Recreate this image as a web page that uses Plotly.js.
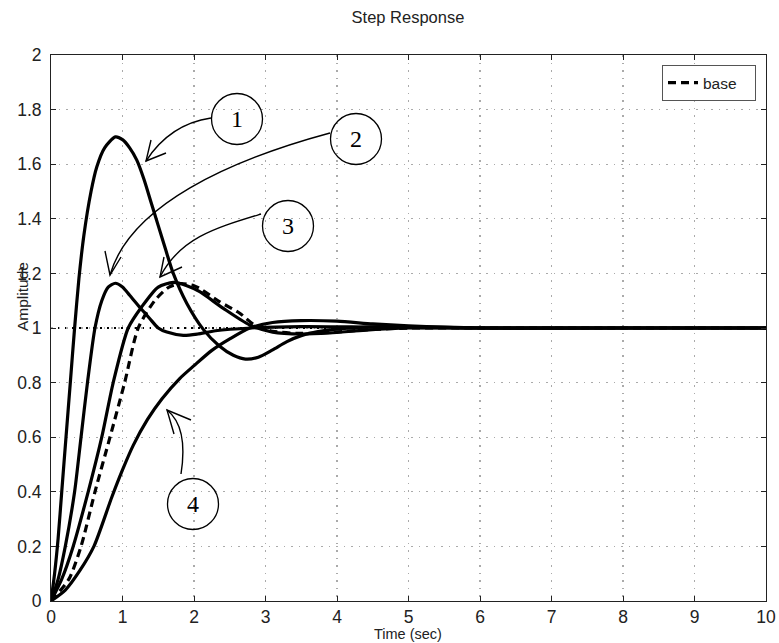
<!DOCTYPE html>
<html>
<head>
<meta charset="utf-8">
<script src="https://cdn.plot.ly/plotly-3.0.1.min.js"></script>
<style>html,body{margin:0;padding:0;background:#fff;}#chart{width:779px;height:643px;}</style>
</head>
<body>
<div id="chart"></div>
<script>
// ---- data ----
const t1 = [0,0.05,0.1,0.15,0.21,0.27,0.33,0.39,0.46,0.56,0.64,0.75,0.9,1.0,1.1,1.2,1.3,1.4,1.5,1.6,1.71,1.9,2.13,2.35,2.55,2.72,2.9,3.1,3.3,3.5,3.8,4.2,4.6,5.0,5.5,6,7,8,9,10];
const y1 = [0,0.1,0.23,0.4,0.6,0.8,1.0,1.18,1.34,1.5,1.59,1.66,1.70,1.69,1.66,1.615,1.545,1.46,1.375,1.29,1.2,1.09,0.995,0.935,0.9,0.886,0.893,0.92,0.95,0.972,0.99,1.0,1.005,1.005,1.002,1.0,1,1,1,1];

const t2 = [0,0.1,0.2,0.33,0.42,0.51,0.615,0.71,0.8,0.9,1.0,1.1,1.245,1.38,1.5,1.62,1.85,2.05,2.3,2.8,3.5,4.5,6,8,10];
const y2 = [0,0.08,0.2,0.4,0.6,0.8,1.0,1.1,1.15,1.164,1.15,1.12,1.075,1.035,1.0,0.985,0.973,0.978,0.99,1.0,1.005,1.003,1,1,1];

const t3 = [0,0.15,0.31,0.52,0.71,0.87,1.08,1.27,1.5,1.71,1.9,2.08,2.41,2.78,3.1,3.5,3.9,4.4,5,6,8,10];
const y3 = [0,0.08,0.2,0.4,0.6,0.8,1.0,1.078,1.15,1.167,1.155,1.133,1.072,1.011,0.985,0.978,0.982,0.992,1.0,1.0,1,1];

const t4 = [0,0.2,0.4,0.6,0.85,1.0,1.15,1.35,1.55,1.8,2.0,2.25,2.5,2.78,3.1,3.5,4.0,4.5,5,5.5,6,8,10];
const y4 = [0,0.04,0.11,0.2,0.38,0.48,0.57,0.665,0.74,0.815,0.862,0.918,0.96,1.0,1.02,1.027,1.025,1.015,1.008,1.003,1.0,1,1];

const tBase = [0,0.25,0.42,0.615,0.825,1.03,1.22,1.45,1.65,1.82,2.0,2.08,2.36,2.64,2.85,3.1,3.5,3.9,4.4,5,6,8,10];
const yBase = [0,0.08,0.2,0.4,0.6,0.8,1.0,1.1,1.15,1.163,1.155,1.145,1.096,1.054,1.01,0.988,0.98,0.984,0.993,1.0,1,1,1];

const xTicks = [0,1,2,3,4,5,6,7,8,9,10];
const xTickText = ['0','1','2','3','4','5','6','7','8','9','10'];
const yTicks = [0,0.2,0.4,0.6,0.8,1,1.2,1.4,1.6,1.8,2];
const yTickText = ['0','0.2','0.4','0.6','0.8','1','1.2','1.4','1.6','1.8','2'];
const labels = ['1','2','3','4'];
const legendName = 'base';

// ---- geometry ----
const W = 779, H = 643;
const M = {l:51, r:13, t:55, b:42};
const PW = W - M.l - M.r, PH = H - M.t - M.b;
const X0 = 0, X1 = 10, Y0 = 0, Y1 = 2;
function dx(X){ return X0 + (X - M.l) / PW * (X1 - X0); }
function dy(Y){ return Y0 + (M.t + PH - Y) / PH * (Y1 - Y0); }
function p(X,Y){ return dx(X).toFixed(4) + ',' + dy(Y).toFixed(4); }

const solid = {color:'#000', width:3.2, shape:'spline', smoothing:0.7};
const traces = [
  {x:t1, y:y1, mode:'lines', line:solid, showlegend:false, hoverinfo:'skip'},
  {x:t2, y:y2, mode:'lines', line:solid, showlegend:false, hoverinfo:'skip'},
  {x:t3, y:y3, mode:'lines', line:solid, showlegend:false, hoverinfo:'skip'},
  {x:t4, y:y4, mode:'lines', line:solid, showlegend:false, hoverinfo:'skip'},
  {x:tBase, y:yBase, mode:'lines', name:legendName + '&nbsp;&nbsp;&nbsp;',
   line:{color:'#000', width:3.2, dash:'8px,5px', shape:'spline', smoothing:0.7}}
];

// circles (pixel centres)
const circ = [[237,119],[356,139],[288,226],[193,504]];
const R = 25.5;
const shapes = [
  {type:'line', xref:'x', yref:'y', x0:0, x1:10, y0:1, y1:1,
   line:{color:'#000', width:2, dash:'2px,5px'}, layer:'below'}
];
circ.forEach(c => {
  shapes.push({type:'circle', xref:'x', yref:'y',
    x0:dx(c[0]-R), x1:dx(c[0]+R), y0:dy(c[1]+R), y1:dy(c[1]-R),
    line:{color:'#000', width:1.3}, fillcolor:'rgba(0,0,0,0)'});
});
const arrowLine = {color:'#000', width:1.4};
const paths = [
  // arrow 1
  'M' + p(211,118) + ' Q' + p(170,124) + ' ' + p(146,161),
  'M' + p(151,140) + ' L' + p(146,161) + ' L' + p(166,153),
  // arrow 2
  'M' + p(330,133) + ' C' + p(230,160) + ' ' + p(130,205) + ' ' + p(110,275),
  'M' + p(105,251) + ' L' + p(110,275) + ' L' + p(121,257),
  // arrow 3
  'M' + p(261,214) + ' C' + p(215,228) + ' ' + p(180,238) + ' ' + p(160,277),
  'M' + p(164,257) + ' L' + p(160,277) + ' L' + p(182,267),
  // arrow 4
  'M' + p(181,474) + ' C' + p(184,455) + ' ' + p(186,425) + ' ' + p(167,410),
  'M' + p(174,434) + ' L' + p(167,410) + ' L' + p(191,420)
];
paths.forEach(d => shapes.push({type:'path', xref:'x', yref:'y', path:d, line:arrowLine}));

const annotations = circ.map((c,i) => ({
  xref:'x', yref:'y', x:dx(c[0]), y:dy(c[1]), text:labels[i], showarrow:false,
  font:{family:'Liberation Serif, Times New Roman, serif', size:24, color:'#000'},
  xanchor:'center', yanchor:'middle'
}));
annotations.push({xref:'paper', yref:'paper', x:0, y:(M.t+PH-297)/PH, xshift:-29,
  text:'Amplitude', textangle:-90, showarrow:false,
  font:{family:'Liberation Sans, Arial, sans-serif', size:15.5, color:'#222'}, xanchor:'center', yanchor:'middle'});
annotations.push({xref:'paper', yref:'paper', x:(408-M.l)/PW, y:0, yshift:-33,
  text:'Time (sec)', showarrow:false,
  font:{family:'Liberation Sans, Arial, sans-serif', size:14.5, color:'#222'}, xanchor:'center', yanchor:'middle'});

const axisCommon = {showline:true, linecolor:'#222', linewidth:1, mirror:'ticks',
  ticks:'inside', ticklen:5, tickcolor:'#222', zeroline:false,
  showgrid:true, gridcolor:'#aaa', griddash:'1.5px,6px', gridwidth:1.2,
  tickfont:{family:'Liberation Sans, Arial, sans-serif', size:17.5, color:'#222'}};

const layout = {
  width:W, height:H, margin:M, paper_bgcolor:'#fff', plot_bgcolor:'#fff',
  title:{text:'Step Response', x:(408)/W, xanchor:'center', y:1-17/H, yanchor:'middle',
    font:{family:'Liberation Sans, Arial, sans-serif', size:16.5, color:'#222'}},
  xaxis:Object.assign({}, axisCommon, {range:[X0,X1], tickvals:xTicks, ticktext:xTickText, ticklabelstandoff:0}),
  yaxis:Object.assign({}, axisCommon, {range:[Y0,Y1], tickvals:yTicks, ticktext:yTickText, ticklabelstandoff:5}),
  showlegend:true,
  legend:{x:(756-M.l)/PW, xanchor:'right', y:(M.t+PH-65)/PH, yanchor:'top',
    bordercolor:'#555', borderwidth:1, bgcolor:'#fff', tracegroupgap:0,
    font:{family:'Liberation Sans, Arial, sans-serif', size:15.5, color:'#222'}},
  shapes:shapes, annotations:annotations
};

Plotly.newPlot('chart', traces, layout, {staticPlot:true, displayModeBar:false});
</script>
</body>
</html>
